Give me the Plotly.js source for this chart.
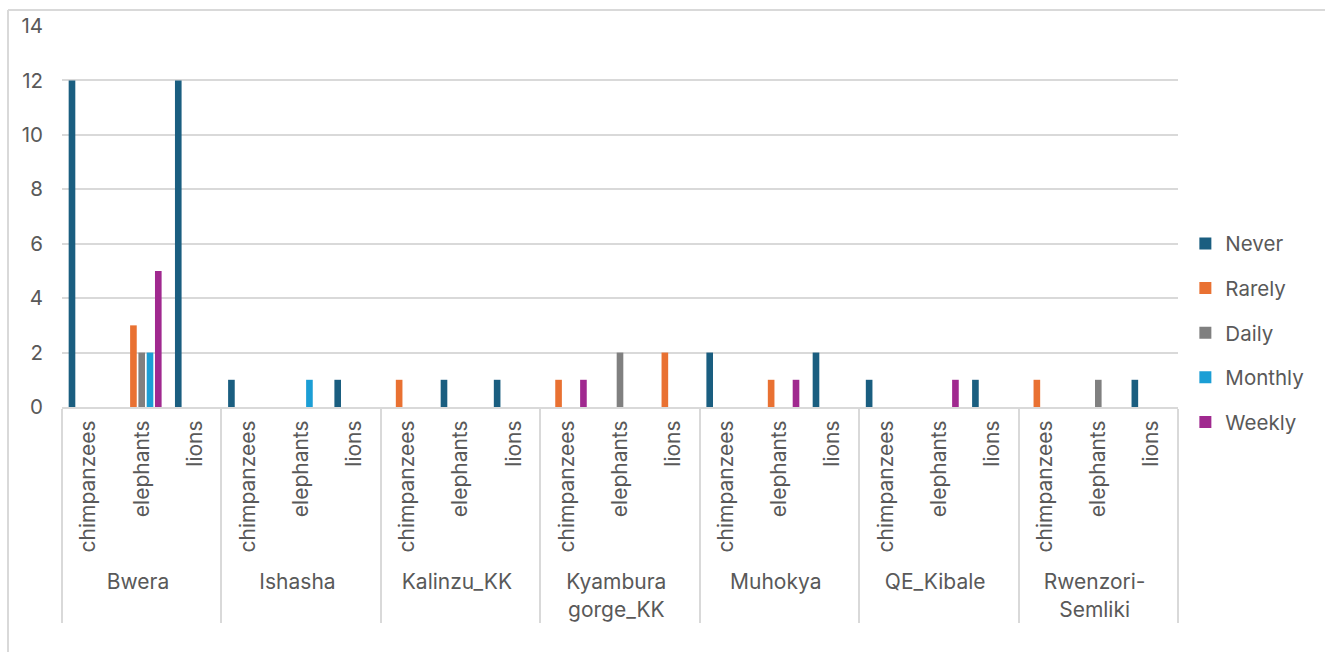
<!DOCTYPE html>
<html>
<head>
<meta charset="utf-8">
<script src="https://cdn.plot.ly/plotly-3.0.1.min.js"></script>
<style>
  html, body { margin: 0; padding: 0; background: #fff; }
  #chart { width: 1325px; height: 652px; }
</style>
</head>
<body>
<div id="chart"></div>
<script>
// Sightings frequency by site and species
const sites = ['Bwera', 'Ishasha', 'Kalinzu_KK', 'Kyambura<br>gorge_KK', 'Muhokya', 'QE_Kibale', 'Rwenzori-<br>Semliki'];
const species = ['chimpanzees', 'elephants', 'lions'];

// one row per site, one value per species
const never   = [[12, 0, 12], [1, 0, 1], [0, 1, 1], [0, 0, 0], [2, 0, 2], [1, 0, 1], [0, 0, 1]];
const rarely  = [[0, 3, 0],   [0, 0, 0], [1, 0, 0], [1, 0, 2], [0, 1, 0], [0, 0, 0], [1, 0, 0]];
const daily   = [[0, 2, 0],   [0, 0, 0], [0, 0, 0], [0, 2, 0], [0, 0, 0], [0, 0, 0], [0, 1, 0]];
const monthly = [[0, 2, 0],   [0, 1, 0], [0, 0, 0], [0, 0, 0], [0, 0, 0], [0, 0, 0], [0, 0, 0]];
const weekly  = [[0, 5, 0],   [0, 0, 0], [0, 0, 0], [1, 0, 0], [0, 1, 0], [0, 1, 0], [0, 0, 0]];

const seriesNames = ['Never', 'Rarely', 'Daily', 'Monthly', 'Weekly'];
const seriesData = [never, rarely, daily, monthly, weekly];
const colors = ['#1A5E80', '#E97132', '#808080', '#1B9ED5', '#A0298F'];

// two-level category axis: outer = site, inner = species
const outer = [], inner = [];
sites.forEach(s => species.forEach(sp => { outer.push(s); inner.push(sp); }));

const traces = seriesNames.map((name, i) => ({
  type: 'bar',
  name: name,
  x: [outer, inner],
  y: seriesData[i].flat(),
  marker: { color: colors[i], line: { width: 0 } },
  legendgroup: name,
  hoverinfo: 'x+y+name'
}));

const textColor = '#595959';
const fontFamily = 'Inter, "Open Sans", sans-serif';
const font = { family: fontFamily, size: 20.5, color: textColor };
const xFont = { family: fontFamily, size: 21, color: textColor };
const frameColor = '#d9d9d9';

const layout = {
  width: 1325,
  height: 652,
  margin: { l: 62, r: 147, t: 26, b: 245 },
  paper_bgcolor: '#ffffff',
  plot_bgcolor: '#ffffff',
  font: font,
  barmode: 'group',
  bargap: 0.22,
  bargroupgap: 0.2,
  showlegend: true,
  legend: {
    x: 1.0066, xanchor: 'left',
    y: 0.194, yanchor: 'middle',
    font: font,
    tracegroupgap: 15,
    itemwidth: 30
  },
  xaxis: {
    type: 'multicategory',
    tickangle: -90,
    tickfont: xFont,
    ticklabelstandoff: 3,
    showline: true,
    linecolor: frameColor,
    linewidth: 2,
    ticks: '',
    showdividers: true,
    dividercolor: frameColor,
    dividerwidth: 2,
    showgrid: false,
    zeroline: false
  },
  yaxis: {
    range: [0, 14],
    dtick: 2,
    tickfont: font,
    ticklabelstandoff: 18,
    showgrid: true,
    gridcolor: frameColor,
    gridwidth: 2,
    zeroline: false,
    showline: false,
    ticks: '',
    ticklen: 0
  },
  // chart frame: top and left edges
  shapes: [
    { type: 'line', xref: 'paper', yref: 'paper', x0: -0.0484, x1: 1.14, y0: 1.042, y1: 1.042,
      line: { color: frameColor, width: 2 }, layer: 'below' },
    { type: 'line', xref: 'paper', yref: 'paper', x0: -0.0484, x1: -0.0484, y0: 1.042, y1: -0.67,
      line: { color: frameColor, width: 2 }, layer: 'below' }
  ]
};

Plotly.newPlot('chart', traces, layout, { displayModeBar: false, staticPlot: true });
</script>
</body>
</html>
